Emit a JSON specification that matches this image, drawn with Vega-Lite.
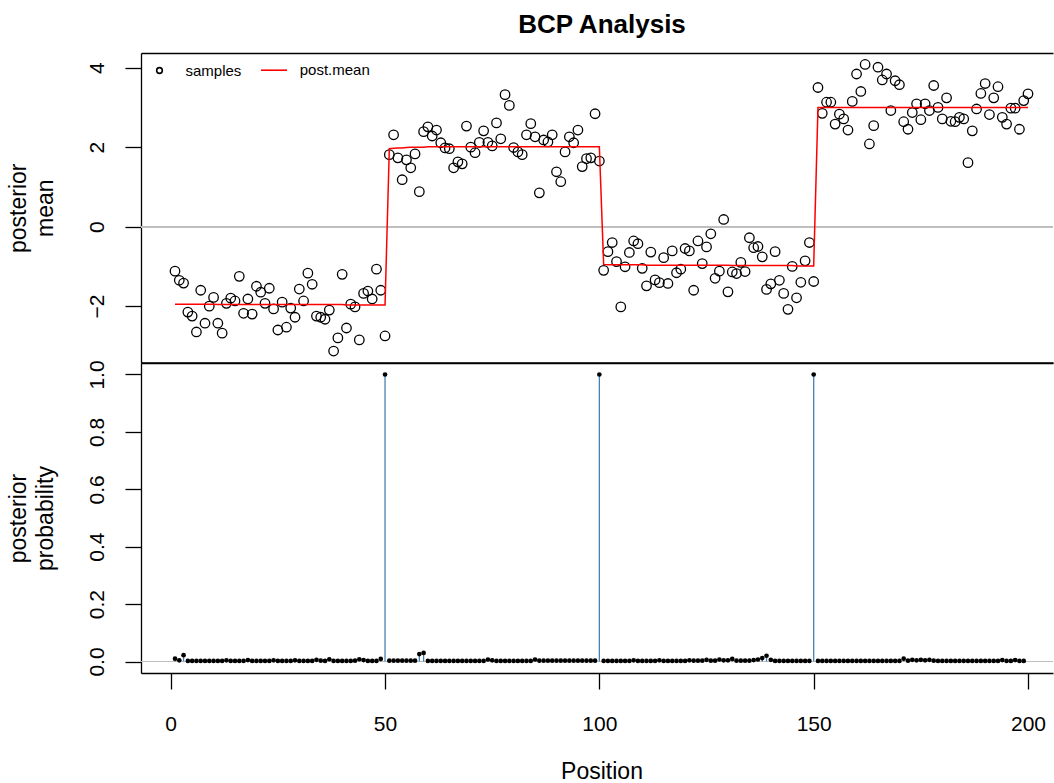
{
"$schema": "https://vega.github.io/schema/vega-lite/v6.json",
"padding": {"left": 7, "top": 11, "right": 0, "bottom": 0},
"autosize": {"type": "pad"},
"background": "white",
"spacing": 0,
"bounds": "flush",
"config": {
  "font": "Liberation Sans",
  "view": {"stroke": null},
  "axis": {"grid": false, "domainColor": "black", "tickColor": "black", "labelColor": "black", "titleColor": "black", "labelFont": "Liberation Sans", "titleFont": "Liberation Sans", "titleFontWeight": "normal", "domainWidth": 1.3, "tickWidth": 1.3, "labelOverlap": false, "labelFlush": false},
  "legend": {"labelFont": "Liberation Sans"}
},
"datasets": {
  "bcp": [
    {"pos":1,"sample":-1.12,"mean":-1.95,"prob":0.010},
    {"pos":2,"sample":-1.35,"mean":-1.95,"prob":0.004},
    {"pos":3,"sample":-1.42,"mean":-1.95,"prob":0.022},
    {"pos":4,"sample":-2.15,"mean":-1.95,"prob":0.002},
    {"pos":5,"sample":-2.25,"mean":-1.95,"prob":0.002},
    {"pos":6,"sample":-2.65,"mean":-1.95,"prob":0.002},
    {"pos":7,"sample":-1.60,"mean":-1.95,"prob":0.002},
    {"pos":8,"sample":-2.43,"mean":-1.95,"prob":0.002},
    {"pos":9,"sample":-2.00,"mean":-1.95,"prob":0.002},
    {"pos":10,"sample":-1.78,"mean":-1.95,"prob":0.002},
    {"pos":11,"sample":-2.43,"mean":-1.96,"prob":0.002},
    {"pos":12,"sample":-2.68,"mean":-1.96,"prob":0.002},
    {"pos":13,"sample":-1.93,"mean":-1.96,"prob":0.004},
    {"pos":14,"sample":-1.80,"mean":-1.96,"prob":0.002},
    {"pos":15,"sample":-1.87,"mean":-1.96,"prob":0.002},
    {"pos":16,"sample":-1.25,"mean":-1.96,"prob":0.002},
    {"pos":17,"sample":-2.18,"mean":-1.96,"prob":0.002},
    {"pos":18,"sample":-1.82,"mean":-1.96,"prob":0.005},
    {"pos":19,"sample":-2.20,"mean":-1.96,"prob":0.002},
    {"pos":20,"sample":-1.50,"mean":-1.96,"prob":0.002},
    {"pos":21,"sample":-1.65,"mean":-1.96,"prob":0.002},
    {"pos":22,"sample":-1.93,"mean":-1.96,"prob":0.002},
    {"pos":23,"sample":-1.55,"mean":-1.96,"prob":0.002},
    {"pos":24,"sample":-2.07,"mean":-1.96,"prob":0.004},
    {"pos":25,"sample":-2.60,"mean":-1.96,"prob":0.002},
    {"pos":26,"sample":-1.90,"mean":-1.96,"prob":0.002},
    {"pos":27,"sample":-2.53,"mean":-1.96,"prob":0.002},
    {"pos":28,"sample":-2.05,"mean":-1.96,"prob":0.002},
    {"pos":29,"sample":-2.28,"mean":-1.96,"prob":0.004},
    {"pos":30,"sample":-1.57,"mean":-1.96,"prob":0.002},
    {"pos":31,"sample":-1.87,"mean":-1.96,"prob":0.002},
    {"pos":32,"sample":-1.17,"mean":-1.96,"prob":0.002},
    {"pos":33,"sample":-1.45,"mean":-1.96,"prob":0.002},
    {"pos":34,"sample":-2.25,"mean":-1.96,"prob":0.006},
    {"pos":35,"sample":-2.28,"mean":-1.96,"prob":0.003},
    {"pos":36,"sample":-2.33,"mean":-1.96,"prob":0.002},
    {"pos":37,"sample":-2.10,"mean":-1.96,"prob":0.008},
    {"pos":38,"sample":-3.13,"mean":-1.96,"prob":0.002},
    {"pos":39,"sample":-2.80,"mean":-1.96,"prob":0.002},
    {"pos":40,"sample":-1.20,"mean":-1.96,"prob":0.002},
    {"pos":41,"sample":-2.55,"mean":-1.97,"prob":0.002},
    {"pos":42,"sample":-1.95,"mean":-1.97,"prob":0.002},
    {"pos":43,"sample":-2.02,"mean":-1.97,"prob":0.003},
    {"pos":44,"sample":-2.85,"mean":-1.97,"prob":0.008},
    {"pos":45,"sample":-1.68,"mean":-1.97,"prob":0.005},
    {"pos":46,"sample":-1.62,"mean":-1.97,"prob":0.002},
    {"pos":47,"sample":-1.82,"mean":-1.97,"prob":0.002},
    {"pos":48,"sample":-1.07,"mean":-1.97,"prob":0.002},
    {"pos":49,"sample":-1.60,"mean":-1.97,"prob":0.009},
    {"pos":50,"sample":-2.75,"mean":-1.97,"prob":1.0},
    {"pos":51,"sample":1.81,"mean":1.96,"prob":0.003},
    {"pos":52,"sample":2.31,"mean":1.97,"prob":0.003},
    {"pos":53,"sample":1.73,"mean":1.98,"prob":0.003},
    {"pos":54,"sample":1.18,"mean":1.98,"prob":0.003},
    {"pos":55,"sample":1.68,"mean":1.99,"prob":0.003},
    {"pos":56,"sample":1.48,"mean":2.00,"prob":0.003},
    {"pos":57,"sample":1.83,"mean":2.00,"prob":0.003},
    {"pos":58,"sample":0.88,"mean":2.00,"prob":0.026},
    {"pos":59,"sample":2.39,"mean":2.00,"prob":0.030},
    {"pos":60,"sample":2.51,"mean":2.01,"prob":0.002},
    {"pos":61,"sample":2.28,"mean":2.01,"prob":0.002},
    {"pos":62,"sample":2.43,"mean":2.01,"prob":0.002},
    {"pos":63,"sample":2.11,"mean":2.01,"prob":0.002},
    {"pos":64,"sample":1.98,"mean":2.01,"prob":0.002},
    {"pos":65,"sample":1.96,"mean":2.01,"prob":0.002},
    {"pos":66,"sample":1.48,"mean":2.01,"prob":0.002},
    {"pos":67,"sample":1.63,"mean":2.01,"prob":0.002},
    {"pos":68,"sample":1.58,"mean":2.01,"prob":0.002},
    {"pos":69,"sample":2.53,"mean":2.01,"prob":0.002},
    {"pos":70,"sample":2.00,"mean":2.01,"prob":0.002},
    {"pos":71,"sample":1.86,"mean":2.01,"prob":0.002},
    {"pos":72,"sample":2.12,"mean":2.01,"prob":0.002},
    {"pos":73,"sample":2.41,"mean":2.01,"prob":0.002},
    {"pos":74,"sample":2.12,"mean":2.01,"prob":0.007},
    {"pos":75,"sample":2.03,"mean":2.01,"prob":0.004},
    {"pos":76,"sample":2.61,"mean":2.01,"prob":0.002},
    {"pos":77,"sample":2.21,"mean":2.01,"prob":0.002},
    {"pos":78,"sample":3.32,"mean":2.01,"prob":0.002},
    {"pos":79,"sample":3.05,"mean":2.01,"prob":0.002},
    {"pos":80,"sample":1.99,"mean":2.01,"prob":0.002},
    {"pos":81,"sample":1.88,"mean":2.01,"prob":0.002},
    {"pos":82,"sample":1.81,"mean":2.01,"prob":0.002},
    {"pos":83,"sample":2.31,"mean":2.01,"prob":0.002},
    {"pos":84,"sample":2.59,"mean":2.01,"prob":0.002},
    {"pos":85,"sample":2.26,"mean":2.01,"prob":0.007},
    {"pos":86,"sample":0.85,"mean":2.01,"prob":0.003},
    {"pos":87,"sample":2.18,"mean":2.01,"prob":0.003},
    {"pos":88,"sample":2.13,"mean":2.01,"prob":0.003},
    {"pos":89,"sample":2.31,"mean":2.01,"prob":0.003},
    {"pos":90,"sample":1.38,"mean":2.01,"prob":0.003},
    {"pos":91,"sample":1.13,"mean":2.01,"prob":0.003},
    {"pos":92,"sample":1.88,"mean":2.01,"prob":0.003},
    {"pos":93,"sample":2.26,"mean":2.01,"prob":0.003},
    {"pos":94,"sample":2.11,"mean":2.01,"prob":0.003},
    {"pos":95,"sample":2.43,"mean":2.01,"prob":0.003},
    {"pos":96,"sample":1.51,"mean":2.01,"prob":0.003},
    {"pos":97,"sample":1.71,"mean":2.01,"prob":0.003},
    {"pos":98,"sample":1.73,"mean":2.01,"prob":0.003},
    {"pos":99,"sample":2.84,"mean":2.01,"prob":0.003},
    {"pos":100,"sample":1.65,"mean":2.01,"prob":1.0},
    {"pos":101,"sample":-1.10,"mean":-0.95,"prob":0.002},
    {"pos":102,"sample":-0.63,"mean":-0.96,"prob":0.002},
    {"pos":103,"sample":-0.40,"mean":-0.96,"prob":0.002},
    {"pos":104,"sample":-0.88,"mean":-0.96,"prob":0.002},
    {"pos":105,"sample":-2.02,"mean":-0.96,"prob":0.002},
    {"pos":106,"sample":-1.01,"mean":-0.96,"prob":0.002},
    {"pos":107,"sample":-0.65,"mean":-0.96,"prob":0.002},
    {"pos":108,"sample":-0.36,"mean":-0.96,"prob":0.004},
    {"pos":109,"sample":-0.43,"mean":-0.96,"prob":0.002},
    {"pos":110,"sample":-1.05,"mean":-0.96,"prob":0.002},
    {"pos":111,"sample":-1.49,"mean":-0.97,"prob":0.002},
    {"pos":112,"sample":-0.64,"mean":-0.97,"prob":0.002},
    {"pos":113,"sample":-1.34,"mean":-0.97,"prob":0.002},
    {"pos":114,"sample":-1.41,"mean":-0.97,"prob":0.004},
    {"pos":115,"sample":-0.78,"mean":-0.97,"prob":0.002},
    {"pos":116,"sample":-1.43,"mean":-0.97,"prob":0.002},
    {"pos":117,"sample":-0.61,"mean":-0.97,"prob":0.002},
    {"pos":118,"sample":-1.16,"mean":-0.97,"prob":0.002},
    {"pos":119,"sample":-1.07,"mean":-0.97,"prob":0.002},
    {"pos":120,"sample":-0.55,"mean":-0.97,"prob":0.002},
    {"pos":121,"sample":-0.61,"mean":-0.97,"prob":0.004},
    {"pos":122,"sample":-1.60,"mean":-0.97,"prob":0.003},
    {"pos":123,"sample":-0.36,"mean":-0.97,"prob":0.003},
    {"pos":124,"sample":-0.93,"mean":-0.97,"prob":0.003},
    {"pos":125,"sample":-0.51,"mean":-0.97,"prob":0.006},
    {"pos":126,"sample":-0.18,"mean":-0.97,"prob":0.003},
    {"pos":127,"sample":-1.30,"mean":-0.97,"prob":0.003},
    {"pos":128,"sample":-1.12,"mean":-0.97,"prob":0.007},
    {"pos":129,"sample":0.18,"mean":-0.97,"prob":0.004},
    {"pos":130,"sample":-1.64,"mean":-0.97,"prob":0.004},
    {"pos":131,"sample":-1.14,"mean":-0.98,"prob":0.009},
    {"pos":132,"sample":-1.18,"mean":-0.98,"prob":0.003},
    {"pos":133,"sample":-0.90,"mean":-0.98,"prob":0.003},
    {"pos":134,"sample":-1.13,"mean":-0.98,"prob":0.003},
    {"pos":135,"sample":-0.28,"mean":-0.98,"prob":0.003},
    {"pos":136,"sample":-0.53,"mean":-0.98,"prob":0.005},
    {"pos":137,"sample":-0.50,"mean":-0.98,"prob":0.007},
    {"pos":138,"sample":-0.76,"mean":-0.98,"prob":0.012},
    {"pos":139,"sample":-1.58,"mean":-0.98,"prob":0.020},
    {"pos":140,"sample":-1.44,"mean":-0.98,"prob":0.006},
    {"pos":141,"sample":-0.63,"mean":-0.98,"prob":0.002},
    {"pos":142,"sample":-1.35,"mean":-0.98,"prob":0.002},
    {"pos":143,"sample":-1.68,"mean":-0.98,"prob":0.002},
    {"pos":144,"sample":-2.08,"mean":-0.98,"prob":0.002},
    {"pos":145,"sample":-1.00,"mean":-0.98,"prob":0.002},
    {"pos":146,"sample":-1.79,"mean":-0.99,"prob":0.002},
    {"pos":147,"sample":-1.40,"mean":-0.99,"prob":0.002},
    {"pos":148,"sample":-0.86,"mean":-0.99,"prob":0.002},
    {"pos":149,"sample":-0.40,"mean":-0.99,"prob":0.002},
    {"pos":150,"sample":-1.38,"mean":-0.99,"prob":1.0},
    {"pos":151,"sample":3.50,"mean":3.00,"prob":0.002},
    {"pos":152,"sample":2.85,"mean":3.00,"prob":0.002},
    {"pos":153,"sample":3.13,"mean":3.00,"prob":0.002},
    {"pos":154,"sample":3.13,"mean":3.00,"prob":0.002},
    {"pos":155,"sample":2.58,"mean":3.00,"prob":0.002},
    {"pos":156,"sample":2.83,"mean":3.00,"prob":0.002},
    {"pos":157,"sample":2.71,"mean":3.00,"prob":0.002},
    {"pos":158,"sample":2.43,"mean":3.00,"prob":0.002},
    {"pos":159,"sample":3.15,"mean":3.00,"prob":0.002},
    {"pos":160,"sample":3.84,"mean":3.00,"prob":0.002},
    {"pos":161,"sample":3.40,"mean":3.00,"prob":0.002},
    {"pos":162,"sample":4.08,"mean":3.00,"prob":0.002},
    {"pos":163,"sample":2.08,"mean":3.00,"prob":0.002},
    {"pos":164,"sample":2.54,"mean":3.00,"prob":0.002},
    {"pos":165,"sample":4.01,"mean":3.00,"prob":0.002},
    {"pos":166,"sample":3.69,"mean":3.00,"prob":0.002},
    {"pos":167,"sample":3.84,"mean":3.00,"prob":0.002},
    {"pos":168,"sample":2.92,"mean":3.00,"prob":0.002},
    {"pos":169,"sample":3.67,"mean":3.00,"prob":0.002},
    {"pos":170,"sample":3.57,"mean":3.00,"prob":0.002},
    {"pos":171,"sample":2.64,"mean":3.00,"prob":0.010},
    {"pos":172,"sample":2.45,"mean":3.00,"prob":0.003},
    {"pos":173,"sample":2.87,"mean":3.00,"prob":0.006},
    {"pos":174,"sample":3.09,"mean":3.00,"prob":0.004},
    {"pos":175,"sample":2.69,"mean":3.00,"prob":0.006},
    {"pos":176,"sample":3.09,"mean":3.00,"prob":0.004},
    {"pos":177,"sample":2.92,"mean":3.00,"prob":0.006},
    {"pos":178,"sample":3.55,"mean":3.00,"prob":0.003},
    {"pos":179,"sample":3.00,"mean":3.00,"prob":0.002},
    {"pos":180,"sample":2.71,"mean":3.00,"prob":0.002},
    {"pos":181,"sample":3.24,"mean":3.00,"prob":0.002},
    {"pos":182,"sample":2.65,"mean":3.00,"prob":0.002},
    {"pos":183,"sample":2.64,"mean":3.00,"prob":0.002},
    {"pos":184,"sample":2.75,"mean":3.00,"prob":0.002},
    {"pos":185,"sample":2.71,"mean":3.00,"prob":0.002},
    {"pos":186,"sample":1.61,"mean":3.00,"prob":0.002},
    {"pos":187,"sample":2.41,"mean":3.00,"prob":0.002},
    {"pos":188,"sample":2.96,"mean":3.00,"prob":0.002},
    {"pos":189,"sample":3.35,"mean":3.00,"prob":0.002},
    {"pos":190,"sample":3.60,"mean":3.00,"prob":0.002},
    {"pos":191,"sample":2.82,"mean":3.00,"prob":0.002},
    {"pos":192,"sample":3.24,"mean":3.00,"prob":0.002},
    {"pos":193,"sample":3.52,"mean":3.00,"prob":0.002},
    {"pos":194,"sample":2.75,"mean":3.00,"prob":0.005},
    {"pos":195,"sample":2.58,"mean":3.00,"prob":0.002},
    {"pos":196,"sample":2.98,"mean":3.00,"prob":0.002},
    {"pos":197,"sample":2.98,"mean":3.00,"prob":0.005},
    {"pos":198,"sample":2.45,"mean":3.00,"prob":0.002},
    {"pos":199,"sample":3.17,"mean":3.00,"prob":0.002},
    {"pos":200,"sample":3.34,"mean":3.00,"prob":null}
  ]
},
"resolve": {"scale": {"color": "independent", "shape": "independent"}, "legend": {"color": "independent", "shape": "independent"}},
"vconcat": [
  {
    "width": 912,
    "height": 309.5,
    "data": {"name": "bcp"},
    "title": {"text": "BCP Analysis", "fontSize": 26, "fontWeight": "bold", "font": "Liberation Sans", "color": "black", "anchor": "middle", "frame": "group", "dx": 5, "baseline": "alphabetic", "offset": -5.5},
    "resolve": {"axis": {"x": "independent"}},
    "layer": [
      {
        "mark": {"type": "rule", "color": "#BEBEBE", "strokeWidth": 1.2},
        "encoding": {"y": {"datum": 0, "type": "quantitative"}}
      },
      {
        "mark": {"type": "point", "shape": "circle", "filled": false, "size": 90, "strokeWidth": 1.3, "opacity": 1, "color": "black"},
        "encoding": {
          "x": {"field": "pos", "type": "quantitative", "scale": {"domain": [-6.93, 205.83], "nice": false, "zero": false},
                "axis": {"orient": "bottom", "domain": true, "ticks": false, "labels": false, "title": null, "minExtent": 0, "maxExtent": 0}},
          "y": {"field": "sample", "type": "quantitative", "scale": {"domain": [-3.418, 4.368], "nice": false, "zero": false},
                "axis": {"orient": "left", "values": [-2, 0, 2, 4], "tickSize": 16, "labelPadding": 22, "labelAngle": -90, "labelAlign": "center", "labelBaseline": "alphabetic", "labelFontSize": 21,
                         "title": ["posterior", "mean"], "titleAngle": -90, "titleAlign": "center", "titleBaseline": "alphabetic", "titleX": -116, "titleY": 154.75, "titleFontSize": 23, "titleLineHeight": 27}},
          "shape": {"datum": "samples", "type": "nominal", "scale": {"domain": ["samples"], "range": ["circle"]},
                    "legend": {"title": null, "orient": "none", "legendX": 11, "legendY": 10, "padding": 0,
                               "labelFontSize": 15, "labelColor": "black", "labelOffset": 18.5, "symbolSize": 32,
                               "symbolStrokeColor": "black", "symbolFillColor": "transparent", "symbolStrokeWidth": 1.6, "symbolOpacity": 1}}
        }
      },
      {
        "mark": {"type": "line", "strokeWidth": 1.5},
        "encoding": {
          "x": {"field": "pos", "type": "quantitative", "scale": {"domain": [-6.93, 205.83], "nice": false, "zero": false},
                "axis": {"orient": "top", "domain": true, "ticks": false, "labels": false, "title": null, "minExtent": 0, "maxExtent": 0}},
          "y": {"field": "mean", "type": "quantitative"},
          "color": {"datum": "post.mean", "type": "nominal", "scale": {"domain": ["post.mean"], "range": ["red"]},
                    "legend": {"title": null, "orient": "none", "legendX": 119, "legendY": 3.2, "padding": 0,
                               "labelFontSize": 15, "labelColor": "black", "labelOffset": 11.7, "symbolSize": 676,
                               "symbolType": "stroke", "symbolStrokeWidth": 1.6, "symbolOpacity": 1}}
        }
      }
    ]
  },
  {
    "width": 912,
    "height": 310,
    "data": {"name": "bcp"},
    "transform": [{"filter": "isValid(datum.prob)"}],
    "resolve": {"axis": {"x": "independent"}},
    "layer": [
      {
        "mark": {"type": "rule", "color": "#BEBEBE", "strokeWidth": 1.2},
        "encoding": {"y": {"datum": 0, "type": "quantitative"}}
      },
      {
        "mark": {"type": "rule", "color": "steelblue", "strokeWidth": 1.3},
        "encoding": {
          "x": {"field": "pos", "type": "quantitative", "scale": {"domain": [-6.93, 205.83], "nice": false, "zero": false},
                "axis": {"orient": "top", "domain": true, "ticks": false, "labels": false, "title": null, "minExtent": 0, "maxExtent": 0}},
          "y": {"field": "prob", "type": "quantitative", "scale": {"domain": [-0.04, 1.04], "nice": false, "zero": false}},
          "y2": {"datum": 0}
        }
      },
      {
        "mark": {"type": "point", "shape": "circle", "filled": true, "size": 22, "color": "black", "opacity": 1},
        "encoding": {
          "x": {"field": "pos", "type": "quantitative",
                "axis": {"orient": "bottom", "values": [0, 50, 100, 150, 200], "tickSize": 16, "labelPadding": 24, "labelBaseline": "top", "labelFontSize": 21,
                         "title": "Position", "titleX": 460.5, "titleY": 105, "titleAlign": "center", "titleBaseline": "alphabetic", "titleFontSize": 23}},
          "y": {"field": "prob", "type": "quantitative",
                "axis": {"orient": "left", "values": [0, 0.2, 0.4, 0.6, 0.8, 1.0], "format": ".1f", "tickSize": 16, "labelPadding": 22, "labelAngle": -90, "labelAlign": "center", "labelBaseline": "alphabetic", "labelFontSize": 21,
                         "title": ["posterior", "probability"], "titleAngle": -90, "titleAlign": "center", "titleBaseline": "alphabetic", "titleX": -116, "titleY": 155, "titleFontSize": 23, "titleLineHeight": 27}}
        }
      }
    ]
  }
]
}
